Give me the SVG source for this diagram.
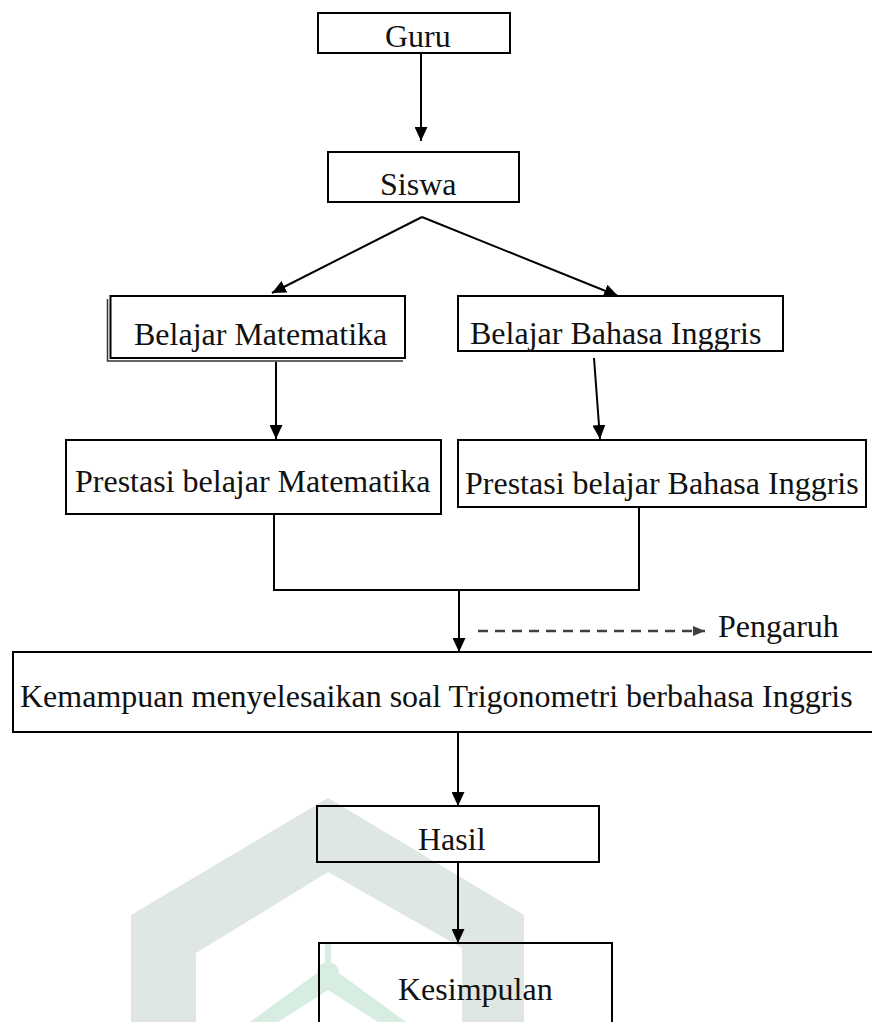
<svg xmlns="http://www.w3.org/2000/svg" width="872" height="1022" viewBox="0 0 872 1022">
<style>
.box{fill:none;stroke:#000;stroke-width:2}
.t{font-family:"Liberation Serif","Times New Roman",serif;font-size:32px;fill:#111}
.c{stroke:#000;stroke-width:2;fill:none}
.d{stroke:#404040;stroke-width:2.5;stroke-dasharray:10 7;fill:none}
.wm{fill:#dee7e2}
.wm2{fill:#d8ede1}
</style>
<defs>
<marker id="ah" viewBox="0 0 14 13" refX="14" refY="6.5" markerWidth="14" markerHeight="13" markerUnits="userSpaceOnUse" orient="auto">
<path d="M0,0 L14,6.5 L0,13 z" fill="#000"/>
</marker>
<marker id="ahg" viewBox="0 0 12 10" refX="12" refY="5" markerWidth="12" markerHeight="10" markerUnits="userSpaceOnUse" orient="auto">
<path d="M0,0 L12,5 L0,10 z" fill="#404040"/>
</marker>
</defs>
<rect width="872" height="1022" fill="#fff"/>
<g id="watermark">
<polygon class="wm" points="131,1022 131,915 328,798 524,915 524,1022 462,1022 462,948 328,872 196,953 196,1022"/>
<polygon class="wm2" points="250,1022 328,965 406,1022 378,1022 328,990 278,1022"/>
<ellipse class="wm2" cx="328" cy="972" rx="11" ry="10"/>
<rect class="wm2" x="325" y="942" width="6" height="24"/>
</g>
<g id="connectors">
<line class="c" x1="421" y1="53" x2="421" y2="141" marker-end="url(#ah)"/>
<line class="c" x1="422" y1="217" x2="272" y2="293" marker-end="url(#ah)"/>
<line class="c" x1="422" y1="217" x2="618" y2="296" marker-end="url(#ah)"/>
<line class="c" x1="276" y1="362" x2="276" y2="439" marker-end="url(#ah)"/>
<line class="c" x1="594" y1="358" x2="600" y2="439" marker-end="url(#ah)"/>
<polyline class="c" points="274,515 274,590 639,590 639,508"/>
<line class="c" x1="459" y1="590" x2="459" y2="652" marker-end="url(#ah)"/>
<line class="d" x1="478" y1="631" x2="705" y2="631" marker-end="url(#ahg)"/>
<line class="c" x1="458" y1="732" x2="458" y2="806" marker-end="url(#ah)"/>
<line class="c" x1="458" y1="862" x2="458" y2="943" marker-end="url(#ah)"/>
</g>
<g id="guru">
<rect class="box" x="318" y="13" width="192" height="40"/>
<text class="t" x="385" y="47">Guru</text>
</g>
<g id="siswa">
<rect class="box" x="328" y="152" width="191" height="50"/>
<text class="t" x="380" y="195">Siswa</text>
</g>
<g id="belajar-matematika">
<rect class="box" x="110.5" y="296" width="294.5" height="62"/>
<polyline fill="none" stroke="#333" stroke-width="1.5" points="107.5,299 107.5,361 403,361"/>
<text class="t" x="134" y="345">Belajar Matematika</text>
</g>
<g id="belajar-bahasa-inggris">
<rect class="box" x="458" y="296" width="325" height="55"/>
<text class="t" x="470" y="344">Belajar Bahasa Inggris</text>
</g>
<g id="prestasi-matematika">
<rect class="box" x="66" y="440" width="375" height="74"/>
<text class="t" x="75" y="492">Prestasi belajar Matematika</text>
</g>
<g id="prestasi-bahasa-inggris">
<rect class="box" x="458" y="440" width="408" height="67"/>
<text class="t" x="465" y="494">Prestasi belajar Bahasa Inggris</text>
</g>
<g id="pengaruh">
<text class="t" x="718" y="637">Pengaruh</text>
</g>
<g id="kemampuan">
<rect class="box" x="13" y="652" width="880" height="80"/>
<text class="t" x="20" y="707">Kemampuan menyelesaikan soal Trigonometri berbahasa Inggris</text>
</g>
<g id="hasil">
<rect class="box" x="317" y="806" width="282" height="56"/>
<text class="t" x="418" y="850">Hasil</text>
</g>
<g id="kesimpulan">
<rect class="box" x="319" y="943" width="293" height="100"/>
<text class="t" x="398" y="1000">Kesimpulan</text>
</g>
</svg>
